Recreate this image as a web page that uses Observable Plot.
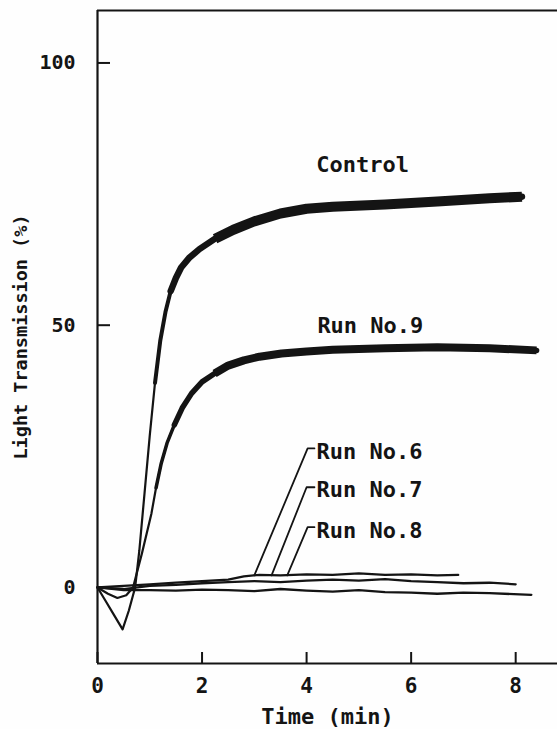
<!DOCTYPE html>
<html>
<head>
<meta charset="utf-8">
<script src="https://cdn.jsdelivr.net/npm/d3@7"></script>
<script src="https://cdn.jsdelivr.net/npm/@observablehq/plot@0.6"></script>
<style>
  html, body { margin: 0; padding: 0; background: #fefefe; }
  #chart svg { display: block; }
</style>
</head>
<body>
<div id="chart"></div>
<script>
// ---- data ----
const xTicks = [0, 2, 4, 6, 8];
const yTicks = [0, 50, 100];
const xDomain = [0, 8.8];
const yDomain = [-14.5, 110];

const controlT = [0, 0.15, 0.3, 0.48, 0.6, 0.72, 0.8, 0.9, 1.0, 1.1, 1.2, 1.3, 1.4, 1.5, 1.6, 1.75, 1.95, 2.25, 2.6, 3.0, 3.5, 4.0, 4.5, 5.5, 6.5, 7.5, 8.12];
const controlV = [0, -2.5, -5, -8, -4.4, 0, 7, 18, 29, 39, 47, 52.5, 56.5, 59, 61, 62.8, 64.5, 66.5, 68.2, 69.8, 71.3, 72.2, 72.6, 73, 73.6, 74.2, 74.5];

const run9T = [0, 0.2, 0.38, 0.55, 0.68, 0.85, 1.03, 1.12, 1.22, 1.33, 1.47, 1.62, 1.8, 2.0, 2.24, 2.5, 2.8, 3.1, 3.52, 4.0, 4.5, 5.5, 6.5, 7.5, 8.4];
const run9V = [0, -1.2, -2, -1.5, 0, 6.5, 14, 19, 23.7, 27.5, 31, 34.2, 37, 39.2, 40.8, 42.3, 43.3, 44, 44.6, 45, 45.3, 45.6, 45.8, 45.6, 45.2];

const run6T = [0, 0.5, 1, 1.5, 2, 2.5, 2.8, 3.1, 3.5, 4, 4.5, 5, 5.5, 6, 6.5, 6.9];
const run6V = [0, 0.3, 0.6, 0.9, 1.2, 1.5, 2.1, 2.4, 2.3, 2.5, 2.4, 2.7, 2.4, 2.5, 2.3, 2.4];

const run7T = [0, 0.5, 1, 1.5, 2, 2.5, 3, 3.5, 4, 4.5, 5, 5.5, 6, 6.5, 7, 7.5, 8.0];
const run7V = [0, -0.3, 0.3, 0.5, 0.8, 1.0, 1.2, 1.0, 1.3, 1.5, 1.3, 1.6, 1.2, 1.0, 0.8, 0.9, 0.6];

const run8T = [0, 0.5, 1, 1.5, 2, 2.5, 3, 3.5, 4, 4.5, 5, 5.5, 6, 6.5, 7, 7.5, 8.3];
const run8V = [0, -0.5, -0.5, -0.6, -0.4, -0.5, -0.7, -0.3, -0.6, -0.8, -0.5, -0.9, -1.0, -1.2, -1.0, -1.1, -1.4];

const labelNames = ["Control", "Run No.9", "Run No.6", "Run No.7", "Run No.8"];
const labelT = [5.07, 5.22, 4.19, 4.19, 4.19];
const labelV = [80.5, 49.9, 25.9, 18.5, 10.8];
const labelAnchors = ["middle", "middle", "start", "start", "start"];

// leader lines: bottom point, top point, end of short horizontal stub
const leaderNames = ["Run No.6", "Run No.7", "Run No.8"];
const leaderT = [[3.0, 4.02, 4.15], [3.33, 4.0, 4.15], [3.63, 4.02, 4.15]];
const leaderV = [[2.3, 26.5, 26.5], [2.3, 19.1, 19.1], [2.3, 11.5, 11.5]];

// ---- tables ----
const toRows = (name, T, V) => T.map((t, i) => ({name, t, v: V[i]}));
const control = toRows("Control", controlT, controlV);
const run9 = toRows("Run No.9", run9T, run9V);
const baselines = [
  ...toRows("Run No.6", run6T, run6V),
  ...toRows("Run No.7", run7T, run7V),
  ...toRows("Run No.8", run8T, run8V)
];
const labels = labelNames.map((name, i) => ({name, t: labelT[i], v: labelV[i], anchor: labelAnchors[i]}));
const leaders = leaderNames.flatMap((name, i) => leaderT[i].map((t, j) => ({name, t, v: leaderV[i][j]})));

const ink = "#141414";
const font = "DejaVu Sans Mono";
const wt = "bold";

const chart = Plot.plot({
  width: 557,
  height: 729,
  marginLeft: 97,
  marginRight: 0,
  marginTop: 10,
  marginBottom: 66,
  x: {domain: xDomain},
  y: {domain: yDomain},
  style: {fontFamily: font, background: "#fefefe", color: ink},
  marks: [
    // frame: left, bottom, top
    Plot.ruleX([xDomain[0]], {stroke: ink, strokeWidth: 2.2}),
    Plot.ruleY([yDomain[0]], {stroke: ink, strokeWidth: 2.2}),
    Plot.ruleY([yDomain[1]], {stroke: ink, strokeWidth: 2}),
    // inward ticks
    Plot.axisY({ticks: yTicks, tickSize: -13, tickFormat: () => "", stroke: ink, strokeWidth: 2, label: null}),
    Plot.axisX({ticks: xTicks, tickSize: -11, tickFormat: () => "", stroke: ink, strokeWidth: 2, label: null}),
    // tick labels
    Plot.axisY({ticks: yTicks, tickSize: 0, tickPadding: 22, fontSize: 20, fontWeight: wt, fill: ink, label: null}),
    Plot.axisX({ticks: xTicks, tickSize: 0, tickPadding: 15, fontSize: 21, fontWeight: wt, fill: ink, label: null}),
    // axis titles
    Plot.axisY({ticks: [], label: "Light Transmission (%)", labelAnchor: "center", labelArrow: "none", labelOffset: 84, fontSize: 18.5, fontWeight: wt, fill: ink}),
    Plot.axisX({ticks: [], label: "Time (min)", labelAnchor: "center", labelArrow: "none", labelOffset: 60, fontSize: 22, fontWeight: wt, fill: ink}),
    // baseline runs
    Plot.line(baselines, {x: "t", y: "v", z: "name", stroke: ink, strokeWidth: 2.3}),
    // Run No.9
    Plot.line(run9, {x: "t", y: "v", stroke: ink, strokeWidth: 2.2}),
    Plot.line(run9, {x: "t", y: "v", filter: d => d.t >= 1.1, stroke: ink, strokeWidth: 3.5}),
    Plot.line(run9, {x: "t", y: "v", filter: d => d.t >= 1.4, stroke: ink, strokeWidth: 5.5}),
    Plot.line(run9, {x: "t", y: "v", filter: d => d.t >= 2.2, stroke: ink, strokeWidth: 8, strokeLinecap: "butt"}),
    // Control
    Plot.line(control, {x: "t", y: "v", stroke: ink, strokeWidth: 2.2}),
    Plot.line(control, {x: "t", y: "v", filter: d => d.t >= 1.1, stroke: ink, strokeWidth: 4}),
    Plot.line(control, {x: "t", y: "v", filter: d => d.t >= 1.4, stroke: ink, strokeWidth: 6.5}),
    Plot.line(control, {x: "t", y: "v", filter: d => d.t >= 2.1, stroke: ink, strokeWidth: 10, strokeLinecap: "butt"}),
    // leader lines
    Plot.line(leaders, {x: "t", y: "v", z: "name", stroke: ink, strokeWidth: 1.8}),
    // curve labels
    Plot.text(labels.filter(d => d.anchor === "middle"), {x: "t", y: "v", text: "name", textAnchor: "middle", lineAnchor: "middle", fontSize: 22, fontWeight: wt, fill: ink}),
    Plot.text(labels.filter(d => d.anchor === "start"), {x: "t", y: "v", text: "name", textAnchor: "start", lineAnchor: "middle", fontSize: 22, fontWeight: wt, fill: ink})
  ]
});
document.getElementById("chart").appendChild(chart);
</script>
</body>
</html>
